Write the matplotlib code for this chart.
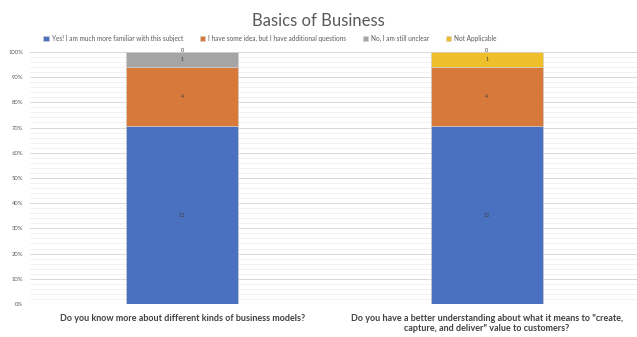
import matplotlib
matplotlib.use("Agg")
import matplotlib.pyplot as plt
import numpy as np
from matplotlib.ticker import MultipleLocator, PercentFormatter

categories = ["Do you know more about different kinds of business models?",
              "Do you have a better understanding about what it means to \"create,\ncapture, and deliver\" value to customers?"]
series_names = ["Yes! I am much more familiar with this subject",
                "I have some idea, but I have additional questions",
                "No, I am still unclear",
                "Not Applicable"]
yes_vals = [12, 12]
some_vals = [4, 4]
no_vals = [1, 0]
na_vals = [0, 1]
colors = ["#4A70C0", "#D6793A", "#A5A5A5", "#EEBF2A"]

plt.rcParams['font.family'] = ['Lato', 'DejaVu Sans']

fig = plt.figure(figsize=(6.37, 3.37), dpi=100)
ax = fig.add_axes([30 / 637, 0.098, 609 / 637, 0.748])

data = np.array([yes_vals, some_vals, no_vals, na_vals], dtype=float)
totals = data.sum(axis=0)
pct = data / totals * 100
x = np.arange(len(categories))
bottom = np.zeros(len(categories))
for i, name in enumerate(series_names):
    ax.bar(x, pct[i], 0.368, bottom=bottom, color=colors[i], label=name,
           edgecolor="#D0D0D0", linewidth=0.4, zorder=3)
    for j in range(len(categories)):
        if data[i][j] == 0:
            ypos = 100.6
        else:
            ypos = bottom[j] + pct[i][j] / 2
        ax.text(x[j], ypos, f"{int(data[i][j])}",
                ha="center", va="center", fontsize=4, color="#404040", zorder=4)
    bottom += pct[i]

ax.set_xlim(-0.5, 1.5)
ax.set_ylim(0, 100)
ax.yaxis.set_major_locator(MultipleLocator(10))
ax.yaxis.set_minor_locator(MultipleLocator(2))
ax.yaxis.set_major_formatter(PercentFormatter(decimals=0))
ax.grid(axis="y", which="major", color="#D9D9D9", linewidth=0.7, zorder=0)
ax.grid(axis="y", which="minor", color="#EDEDED", linewidth=0.5, zorder=0)
ax.tick_params(axis="y", which="both", length=0, labelsize=4.2, labelcolor="#595959", pad=5)
ax.tick_params(axis="x", length=0, pad=7)
ax.set_xticks(x)
ax.set_xticklabels(categories, fontsize=6.5, fontweight="bold", color="#404040")
for s in ax.spines.values():
    s.set_visible(False)
ax.axhline(0, color="#D9D9D9", linewidth=0.8, zorder=1)

fig.suptitle("Basics of Business", y=0.962, fontsize=12, color="#595959")
fig.legend(loc="upper center", bbox_to_anchor=(270 / 637, 0.915), ncol=4, frameon=False,
           fontsize=4.7, handlelength=0.8, handleheight=0.8, handletextpad=0.5,
           columnspacing=2.5, labelcolor="#595959")

fig.savefig("out.png", dpi=100, facecolor="white")
